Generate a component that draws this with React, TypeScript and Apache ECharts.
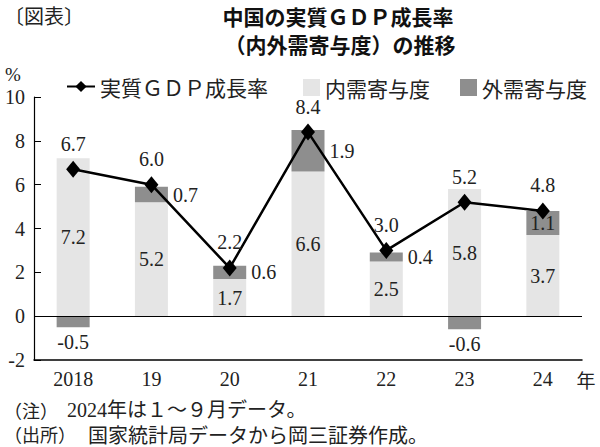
import React, { useEffect, useRef } from "react";
import * as echarts from "echarts";

const categories = ["2018", "19", "20", "21", "22", "23", "24"];
const gdpGrowth = [6.7, 6.0, 2.2, 8.4, 3.0, 5.2, 4.8];
const domestic = [7.2, 5.2, 1.7, 6.6, 2.5, 5.8, 3.7];
const external = [-0.5, 0.7, 0.6, 1.9, 0.4, -0.6, 1.1];
const yTicks = { min: -2, max: 10, interval: 2 };

const SERIF = "'Liberation Serif', 'Noto Sans CJK JP', serif";
const CJK = "'Noto Sans CJK JP', sans-serif";
const TXT = "#222";

export default function App() {
  const ref = useRef<HTMLDivElement>(null);
  useEffect(() => {
    if (!ref.current) return;
    const chart = echarts.init(ref.current, undefined, { renderer: "svg" });
    const fmt = (p: any) => Number(p.value).toFixed(1);
    const lastIdx = external.length - 1;
    const option: any = {
      animation: false,
      backgroundColor: "#fff",
      grid: { left: 34, right: 18, top: 97, bottom: 87, containLabel: false },
      legend: [
        {
          data: ["実質ＧＤＰ成長率"],
          left: 61,
          top: 71,
          itemWidth: 28,
          itemHeight: 14,
          textStyle: { fontFamily: CJK, fontSize: 21, color: TXT },
        },
        {
          data: ["内需寄与度"],
          left: 298,
          top: 72,
          itemWidth: 17,
          itemHeight: 17,
          icon: "rect",
          textStyle: { fontFamily: CJK, fontSize: 21, color: TXT },
        },
        {
          data: ["外需寄与度"],
          left: 455,
          top: 72,
          itemWidth: 17,
          itemHeight: 17,
          icon: "rect",
          textStyle: { fontFamily: CJK, fontSize: 21, color: TXT },
        },
      ],
      xAxis: {
        type: "category",
        data: categories,
        axisLine: { onZero: false, lineStyle: { color: "#000", width: 1.5 } },
        axisTick: { show: false },
        axisLabel: { fontFamily: SERIF, fontSize: 20, color: TXT, margin: 9 },
      },
      yAxis: {
        type: "value",
        min: yTicks.min,
        max: yTicks.max,
        interval: yTicks.interval,
        axisLine: { show: true, lineStyle: { color: "#000", width: 1.2 } },
        axisTick: { show: true, inside: true, length: 7, lineStyle: { color: "#000" } },
        splitLine: { show: false },
        axisLabel: { fontFamily: SERIF, fontSize: 20, color: TXT, margin: 9 },
      },
      series: [
        {
          name: "内需寄与度",
          type: "bar",
          stack: "c",
          barWidth: 33,
          itemStyle: { color: "#e5e5e5" },
          data: domestic,
          label: {
            show: true,
            position: "inside",
            formatter: fmt,
            fontFamily: SERIF,
            fontSize: 20,
            color: TXT,
          },
          markLine: {
            silent: true,
            symbol: "none",
            label: { show: false },
            lineStyle: { color: "#000", width: 1, type: "solid" },
            data: [{ yAxis: 0 }],
          },
        },
        {
          name: "外需寄与度",
          type: "bar",
          stack: "c",
          barWidth: 33,
          itemStyle: { color: "#8e8e8e" },
          data: external.map((v, i) => ({
            value: v,
            label: {
              position: i === lastIdx ? "inside" : v < 0 ? "bottom" : "right",
              distance: 5,
            },
          })),
          label: {
            show: true,
            formatter: fmt,
            fontFamily: SERIF,
            fontSize: 20,
            color: TXT,
          },
        },
        {
          name: "実質ＧＤＰ成長率",
          type: "line",
          data: gdpGrowth,
          z: 5,
          symbol: "diamond",
          symbolSize: [14, 17],
          lineStyle: { color: "#000", width: 2.5 },
          itemStyle: { color: "#000" },
          label: {
            show: true,
            position: "top",
            distance: 7,
            formatter: fmt,
            fontFamily: SERIF,
            fontSize: 20,
            color: TXT,
          },
        },
      ],
      graphic: [
        { type: "text", left: 4, top: 5, style: { text: "〔図表〕", fontFamily: CJK, fontSize: 20, fill: TXT } },
        {
          type: "text",
          x: 338,
          y: 16,
          style: { text: "中国の実質ＧＤＰ成長率", fontFamily: CJK, fontSize: 21, fontWeight: "bold", fill: "#111", align: "center", verticalAlign: "middle" },
        },
        {
          type: "text",
          x: 340,
          y: 44,
          style: { text: "（内外需寄与度）の推移", fontFamily: CJK, fontSize: 21, fontWeight: "bold", fill: "#111", align: "center", verticalAlign: "middle" },
        },
        { type: "text", x: 5, y: 74, style: { text: "%", fontFamily: SERIF, fontSize: 19, fill: TXT, verticalAlign: "middle" } },
        { type: "text", x: 586, y: 379, style: { text: "年", fontFamily: CJK, fontSize: 19, fill: TXT, align: "center", verticalAlign: "middle" } },
        { type: "text", x: 4, y: 410, style: { text: "（注）", fontFamily: CJK, fontSize: 18, fill: TXT, verticalAlign: "middle" } },
        { type: "text", x: 67, y: 410, style: { text: "2024年は１～９月データ。", fontFamily: SERIF, fontSize: 20, fill: TXT, verticalAlign: "middle" } },
        { type: "text", x: 4, y: 434, style: { text: "（出所）", fontFamily: CJK, fontSize: 18, fill: TXT, verticalAlign: "middle" } },
        { type: "text", x: 88, y: 434, style: { text: "国家統計局データから岡三証券作成。", fontFamily: CJK, fontSize: 20, fill: TXT, verticalAlign: "middle" } },
      ],
    };
    chart.setOption(option);
    return () => chart.dispose();
  }, []);
  return (
    <div
      ref={ref}
      style={{ position: "fixed", left: 0, top: 0, width: 600, height: 447 }}
    />
  );
}
